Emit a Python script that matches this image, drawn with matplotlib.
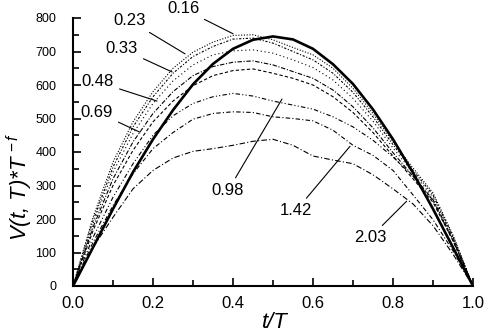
import numpy as np
import matplotlib.pyplot as plt
from matplotlib.ticker import MultipleLocator

plt.rcParams['font.family'] = ['Liberation Sans', 'DejaVu Sans']
plt.rcParams['mathtext.fontset'] = 'custom'
plt.rcParams['mathtext.rm'] = 'Liberation Sans'
plt.rcParams['mathtext.it'] = 'Liberation Sans:italic'

# t/T sample points
t = [0, .05, .1, .15, .2, .25, .3, .35, .4, .45, .5,
     .55, .6, .65, .7, .75, .8, .85, .9, .95, 1.0]

# thick reference curve
v_ref = [0, 115, 230, 340, 438, 525, 602, 663, 708, 735, 745,
         736, 708, 662, 603, 527, 438, 338, 230, 115, 0]

# scaled curves for each exponent
f_labels = ['0.16', '0.23', '0.33', '0.48', '0.69', '0.98', '1.42', '2.03']
v_016 = [0, 205, 370, 490, 580, 650, 698, 728, 748, 750, 735,
         712, 690, 650, 590, 515, 430, 352, 278, 152, 0]
v_023 = [0, 195, 355, 475, 565, 635, 685, 715, 737, 740, 725,
         700, 675, 635, 578, 505, 422, 345, 272, 148, 0]
v_033 = [0, 185, 340, 455, 545, 612, 660, 690, 702, 705, 695,
         675, 652, 615, 560, 492, 412, 338, 265, 145, 0]
v_048 = [0, 175, 320, 430, 515, 580, 628, 655, 668, 672, 660,
         640, 620, 585, 535, 472, 398, 328, 258, 140, 0]
v_069 = [0, 165, 300, 405, 490, 552, 598, 628, 643, 648, 635,
         620, 600, 565, 518, 458, 388, 320, 250, 135, 0]
v_098 = [0, 145, 265, 365, 450, 508, 545, 565, 575, 567, 552,
         540, 528, 505, 475, 435, 385, 328, 255, 135, 0]
v_142 = [0, 130, 240, 335, 410, 458, 498, 515, 520, 518, 505,
         500, 493, 465, 420, 390, 345, 272, 198, 105, 0]
v_203 = [0, 115, 205, 290, 345, 382, 402, 410, 420, 432, 438,
         420, 388, 376, 365, 332, 290, 245, 180, 95, 0]

# label text position and the point the leader line goes to
label_text = [(0.275, 828), (0.1425, 792), (0.1225, 708), (0.0625, 609),
              (0.06, 519), (0.3875, 285), (0.5575, 225), (0.7425, 144)]
label_tip = [(0.40, 753), (0.28, 693), (0.2475, 639), (0.21, 552),
             (0.1675, 459), (0.5225, 558), (0.6925, 417), (0.834, 253)]

curves = [v_016, v_023, v_033, v_048, v_069, v_098, v_142, v_203]
styles = [(0, (1, 1.5)), (0, (2, 1.5, 1, 1.5)), (0, (1, 2.5)),
          (0, (4, 1.5, 1, 1.5)), (0, (3, 2)), (0, (4, 2, 1, 2, 1, 2)),
          (0, (1, 2, 4, 2)), (0, (5, 2, 1, 2))]

fig = plt.figure(figsize=(4.91, 3.33), dpi=100)
ax = fig.add_axes([73/491, 1 - 286/333, 400/491, 268/333])

for v, ls in zip(curves, styles):
    ax.plot(t, v, color='black', lw=0.8, ls=ls)
ax.plot(t, v_ref, color='black', lw=1.9)

for lab, xt, tip in zip(f_labels, label_text, label_tip):
    ax.annotate(lab, xy=tip, xytext=xt, ha='center', va='center',
                fontsize=12, annotation_clip=False,
                arrowprops=dict(arrowstyle='-', lw=0.8, color='black',
                                shrinkA=2, shrinkB=0))

ax.set_xlim(0, 1.0)
ax.set_ylim(0, 800)
ax.xaxis.set_major_locator(MultipleLocator(0.2))
ax.xaxis.set_minor_locator(MultipleLocator(0.1))
ax.yaxis.set_major_locator(MultipleLocator(100))
ax.yaxis.set_minor_locator(MultipleLocator(50))
ax.xaxis.set_major_formatter(plt.FormatStrFormatter('%.1f'))

for s in ['top', 'right']:
    ax.spines[s].set_visible(False)
for s in ['left', 'bottom']:
    ax.spines[s].set_linewidth(1.5)

ax.tick_params(which='both', direction='in', width=1.2)
ax.tick_params(which='major', length=6)
ax.tick_params(which='minor', length=4)
ax.tick_params(axis='x', labelsize=12, pad=7)
ax.tick_params(axis='y', pad=12)
for lbl in ax.get_yticklabels():
    lbl.set_family(['Liberation Sans Narrow', 'Liberation Sans'])
    lbl.set_fontsize(9)

fig.text(275/491, 1 - 323/333, 't/T', fontsize=16, style='italic',
         ha='center', va='center')
fig.text(20/491, 1 - 187/333, 'V(t, T)*T$^{\\,-f}$', fontsize=16,
         style='italic', rotation=90, ha='center', va='center')

fig.savefig('out.png', dpi=100)
